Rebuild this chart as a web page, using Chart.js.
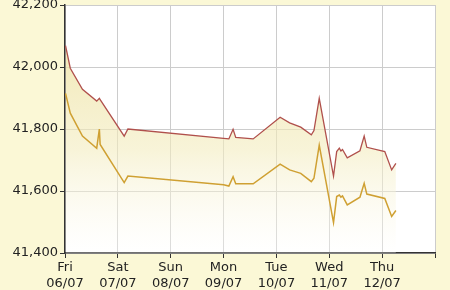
<!DOCTYPE html>
<html>
<head>
<meta charset="utf-8">
<script src="https://cdn.jsdelivr.net/npm/chart.js@4/dist/chart.umd.min.js"></script>
<style>
  html, body { margin: 0; padding: 0; background: #fbf8d6; }
  #wrap { width: 450px; height: 290px; }
</style>
</head>
<body>
<div id="wrap"><canvas id="goldChart"></canvas></div>
<script>
// time of each reading, in days after Fri 06/07 00:00
const times = [0.01, 0.10, 0.33, 0.60, 0.65, 0.665, 1.12, 1.19, 3.0, 3.1, 3.18, 3.23, 3.56,
  4.07, 4.25, 4.46, 4.66, 4.71, 4.81, 5.08, 5.14, 5.19, 5.22, 5.25, 5.34, 5.58, 5.66, 5.71,
  6.05, 6.18, 6.26];

// selling price (upper line)
const sellPrices = [42069, 41996, 41928, 41890, 41899, 41895, 41777, 41800, 41770, 41768, 41799, 41773, 41768,
  41838, 41820, 41806, 41781, 41795, 41899, 41648, 41727, 41738, 41729, 41734, 41707, 41730, 41777, 41741,
  41727, 41668, 41689];

// buying price (lower line)
const buyPrices = [41915, 41851, 41777, 41738, 41800, 41750, 41627, 41648, 41620, 41616, 41646, 41623, 41623,
  41687, 41668, 41657, 41630, 41641, 41748, 41498, 41582, 41587, 41580, 41584, 41555, 41580, 41625, 41590,
  41576, 41518, 41537];

const dayLabels = ["Fri", "Sat", "Sun", "Mon", "Tue", "Wed", "Thu", ""];
const dateLabels = ["06/07", "07/07", "08/07", "09/07", "10/07", "11/07", "12/07", ""];

const toPoints = (vals) => vals.map((v, i) => ({ x: times[i], y: v }));

// white plot area on the yellow page
const plotBackground = {
  id: "plotBackground",
  beforeDraw(chart) {
    const { ctx, chartArea: a } = chart;
    ctx.save();
    ctx.fillStyle = "#ffffff";
    ctx.fillRect(a.left, a.top, a.right - a.left, a.bottom - a.top);
    ctx.restore();
  }
};

function areaFill(context) {
  const a = context.chart.chartArea;
  if (!a) return "rgba(240,230,170,0.5)";
  const g = context.chart.ctx.createLinearGradient(0, a.top + 40, 0, a.bottom);
  g.addColorStop(0, "rgba(238,226,160,0.75)");
  g.addColorStop(0.5, "rgba(243,236,190,0.6)");
  g.addColorStop(1, "rgba(255,255,255,0.3)");
  return g;
}

const font = { family: "DejaVu Sans", size: 13 };

new Chart(document.getElementById("goldChart"), {
  type: "line",
  data: {
    datasets: [
      {
        label: "Sell",
        data: toPoints(sellPrices),
        borderColor: "#b0504c",
        borderWidth: 1.3,
        pointRadius: 0,
        tension: 0,
        fill: "start",
        backgroundColor: areaFill
      },
      {
        label: "Buy",
        data: toPoints(buyPrices),
        borderColor: "#cfa032",
        borderWidth: 1.5,
        pointRadius: 0,
        tension: 0,
        fill: false
      }
    ]
  },
  options: {
    responsive: true,
    maintainAspectRatio: false,
    animation: false,
    layout: { padding: { top: 5, right: 15, left: 0, bottom: 0 } },
    plugins: {
      legend: { display: false },
      tooltip: { enabled: false },
      filler: { drawTime: "beforeDatasetsDraw" }
    },
    scales: {
      x: {
        type: "linear",
        min: 0,
        max: 7,
        afterFit(scale) { scale.height = 37; scale.paddingLeft = 0; scale.paddingRight = 0; },
        ticks: {
          stepSize: 1,
          autoSkip: false,
          maxRotation: 0,
          padding: 2,
          color: "#222",
          font: font,
          callback: (v) => [dayLabels[v], dateLabels[v]]
        },
        grid: { color: "#cccccc", lineWidth: 1, tickColor: "#333", tickLength: 5 },
        border: { display: true, color: "#333", width: 1.5 }
      },
      y: {
        min: 41400,
        max: 42200,
        afterFit(scale) { scale.width = 65; scale.paddingTop = 0; scale.paddingBottom = 0; },
        ticks: {
          stepSize: 200,
          padding: 2,
          color: "#222",
          font: font,
          callback: (v) => v.toLocaleString("en-US")
        },
        grid: { color: "#cccccc", lineWidth: 1, tickColor: "#333", tickLength: 5 },
        border: { display: true, color: "#333", width: 1.5 }
      }
    }
  },
  plugins: [plotBackground]
});
</script>
</body>
</html>
